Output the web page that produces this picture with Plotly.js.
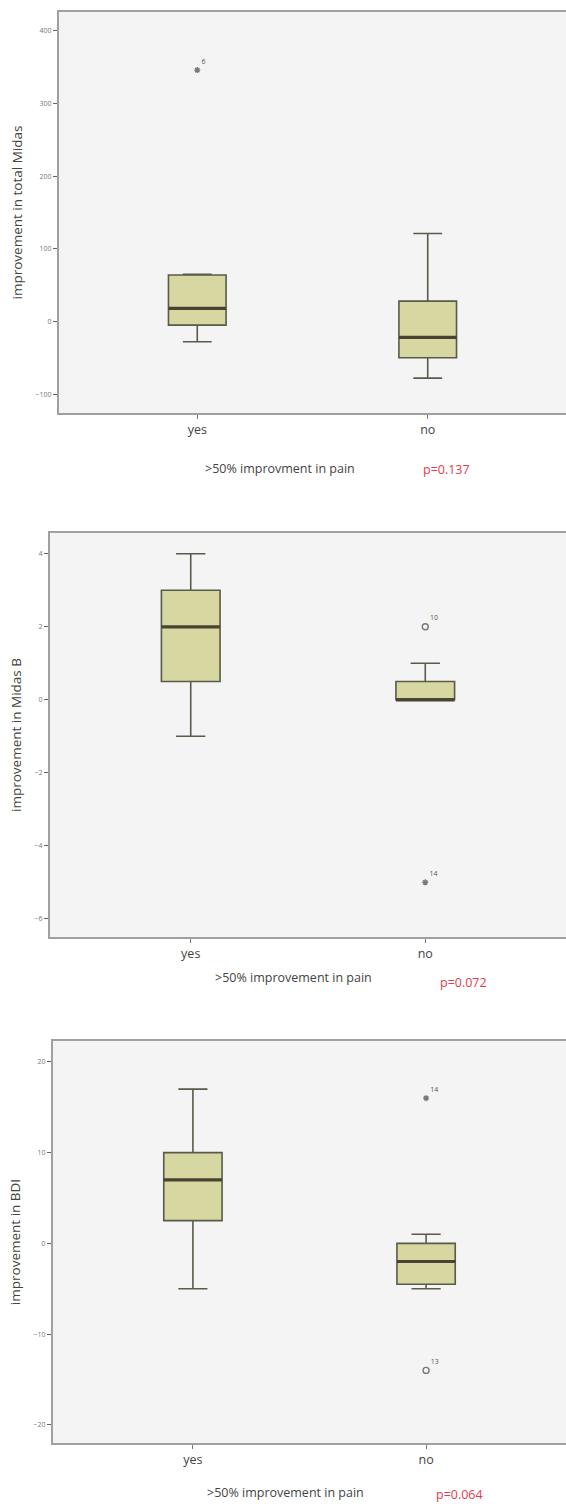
<!DOCTYPE html>
<html>
<head>
<meta charset="utf-8">
<script src="https://cdn.plot.ly/plotly-3.0.1.min.js"></script>
<style>html,body{margin:0;padding:0;background:#fff;}#chart{width:566px;height:1504px;}</style>
</head>
<body>
<div id="chart"></div>
<script>
// ---- data ----
const categories = ['yes', 'no'];

// Panel 1: improvement in total Midas
const midasTotalQ1 = [-5, -50];
const midasTotalMedian = [18, -22];
const midasTotalQ3 = [64, 28];
const midasTotalLower = [-28, -78];
const midasTotalUpper = [65, 121];
const midasTotalOutX = ['yes'];
const midasTotalOutY = [346];
const midasTotalOutLabel = ['6'];
const midasTotalOutType = ['extreme'];

// Panel 2: improvement in Midas B
const midasBQ1 = [0.5, 0];
const midasBMedian = [2, 0];
const midasBQ3 = [3, 0.5];
const midasBLower = [-1, 0];
const midasBUpper = [4, 1];
const midasBOutX = ['no', 'no'];
const midasBOutY = [2, -5];
const midasBOutLabel = ['10', '14'];
const midasBOutType = ['outlier', 'extreme'];

// Panel 3: improvement in BDI
const bdiQ1 = [2.5, -4.5];
const bdiMedian = [7, -2];
const bdiQ3 = [10, 0];
const bdiLower = [-5, -5];
const bdiUpper = [17, 1];
const bdiOutX = ['no', 'no'];
const bdiOutY = [16, -14];
const bdiOutLabel = ['14', '13'];
const bdiOutType = ['extreme', 'outlier'];

const yTitles = ['improvement in total Midas', 'improvement in Midas B', 'improvement in BDI'];
const xTitles = ['>50% improvment in pain', '>50% improvement in pain', '>50% improvement in pain'];
const pValues = ['p=0.137', 'p=0.072', 'p=0.064'];
const yTicks1 = [-100, 0, 100, 200, 300, 400];
const yTicks2 = [-6, -4, -2, 0, 2, 4];
const yTicks3 = [-20, -10, 0, 10, 20];

// ---- styling ----
const W = 566, H = 1504;
const FILL = '#d7d7a1';
const EDGE = '#5a5a4a';
const MED = '#4b4331';
const FONT = 'Open Sans, Liberation Sans, sans-serif';

function panelTraces(idx, q1, med, q3, lo, hi, ox, oy, olab, otype) {
  const xa = idx === 0 ? 'x' : 'x' + (idx + 1);
  const ya = idx === 0 ? 'y' : 'y' + (idx + 1);
  const out = [];
  out.push({
    type: 'box', x: categories, q1: q1, median: med, q3: q3,
    lowerfence: lo, upperfence: hi, boxpoints: false,
    width: 0.25, whiskerwidth: 0.5,
    fillcolor: FILL, line: {color: EDGE, width: 1.6},
    xaxis: xa, yaxis: ya, hoverinfo: 'skip', showlegend: false
  });
  // thick median line as a flat box
  out.push({
    type: 'box', x: categories, q1: med, median: med, q3: med,
    lowerfence: med, upperfence: med, boxpoints: false,
    width: 0.25, whiskerwidth: 0,
    fillcolor: 'rgba(0,0,0,0)', line: {color: MED, width: 3.2},
    xaxis: xa, yaxis: ya, hoverinfo: 'skip', showlegend: false
  });
  out.push({
    type: 'scatter', mode: 'markers+text', x: ox, y: oy, text: olab,
    textposition: 'top right',
    textfont: {size: 7, color: '#555', family: FONT},
    marker: {
      symbol: otype.map(t => t === 'extreme' ? 'asterisk-open' : 'circle-open'),
      size: otype.map(t => t === 'extreme' ? 5 : 6),
      color: '#444', line: {color: '#444', width: 1.4}
    },
    cliponaxis: false,
    xaxis: xa, yaxis: ya, hoverinfo: 'skip', showlegend: false
  });
  return out;
}

const data = [].concat(
  panelTraces(0, midasTotalQ1, midasTotalMedian, midasTotalQ3, midasTotalLower, midasTotalUpper,
    midasTotalOutX, midasTotalOutY, midasTotalOutLabel, midasTotalOutType),
  panelTraces(1, midasBQ1, midasBMedian, midasBQ3, midasBLower, midasBUpper,
    midasBOutX, midasBOutY, midasBOutLabel, midasBOutType),
  panelTraces(2, bdiQ1, bdiMedian, bdiQ3, bdiLower, bdiUpper,
    bdiOutX, bdiOutY, bdiOutLabel, bdiOutType)
);

// pixel frames of the three plot areas: [left, top, bottom]
const frames = [[59, 12, 413], [50, 533, 937], [53, 1041, 1443]];
const yRanges = [[-126, 426], [-6.5, 4.57], [-22, 22.3]];
const yTickSets = [yTicks1, yTicks2, yTicks3];

const layout = {
  width: W, height: H,
  margin: {l: 0, r: 0, t: 0, b: 0},
  paper_bgcolor: '#ffffff',
  plot_bgcolor: '#f4f4f4',
  font: {family: FONT, color: '#444'},
  showlegend: false,
  annotations: []
};

frames.forEach((f, i) => {
  const sx = i === 0 ? '' : String(i + 1);
  layout['xaxis' + sx] = {
    domain: [f[0] / W, 1],
    anchor: 'y' + sx,
    type: 'category',
    categoryorder: 'array', categoryarray: categories,
    range: [-0.6, 1.6],
    showgrid: false, zeroline: false,
    showline: true, mirror: true, linecolor: '#a0a0a0', linewidth: 2,
    ticks: 'outside', ticklen: 4, tickcolor: '#777', tickwidth: 1,
    tickfont: {size: 12.5, color: '#444', family: FONT},
    fixedrange: true
  };
  layout['yaxis' + sx] = {
    domain: [(H - f[2]) / H, (H - f[1]) / H],
    anchor: 'x' + sx,
    range: yRanges[i],
    tickvals: yTickSets[i],
    showgrid: false, zeroline: false,
    showline: true, mirror: true, linecolor: '#a0a0a0', linewidth: 2,
    ticks: 'outside', ticklen: 4, tickcolor: '#666', tickwidth: 1.2,
    tickfont: {size: 7, color: '#777', family: FONT},
    title: {text: yTitles[i], font: {size: 13.5, color: '#444', family: FONT}, standoff: 10},
    fixedrange: true
  };
});

// x titles and p values
const xTitlePos = [[280, 468], [293, 977], [285, 1492]];
const pPos = [[447, 469], [463, 982], [459, 1494]];
xTitles.forEach((t, i) => {
  layout.annotations.push({
    xref: 'paper', yref: 'paper', x: xTitlePos[i][0] / W, y: 1 - xTitlePos[i][1] / H,
    xanchor: 'center', yanchor: 'middle', showarrow: false, text: t,
    font: {size: 12.5, color: '#444', family: FONT}
  });
  layout.annotations.push({
    xref: 'paper', yref: 'paper', x: pPos[i][0] / W, y: 1 - pPos[i][1] / H,
    xanchor: 'center', yanchor: 'middle', showarrow: false, text: pValues[i],
    font: {size: 12.5, color: '#e23b4b', family: FONT}
  });
});

Plotly.newPlot('chart', data, layout, {displayModeBar: false, staticPlot: true});
</script>
</body>
</html>
